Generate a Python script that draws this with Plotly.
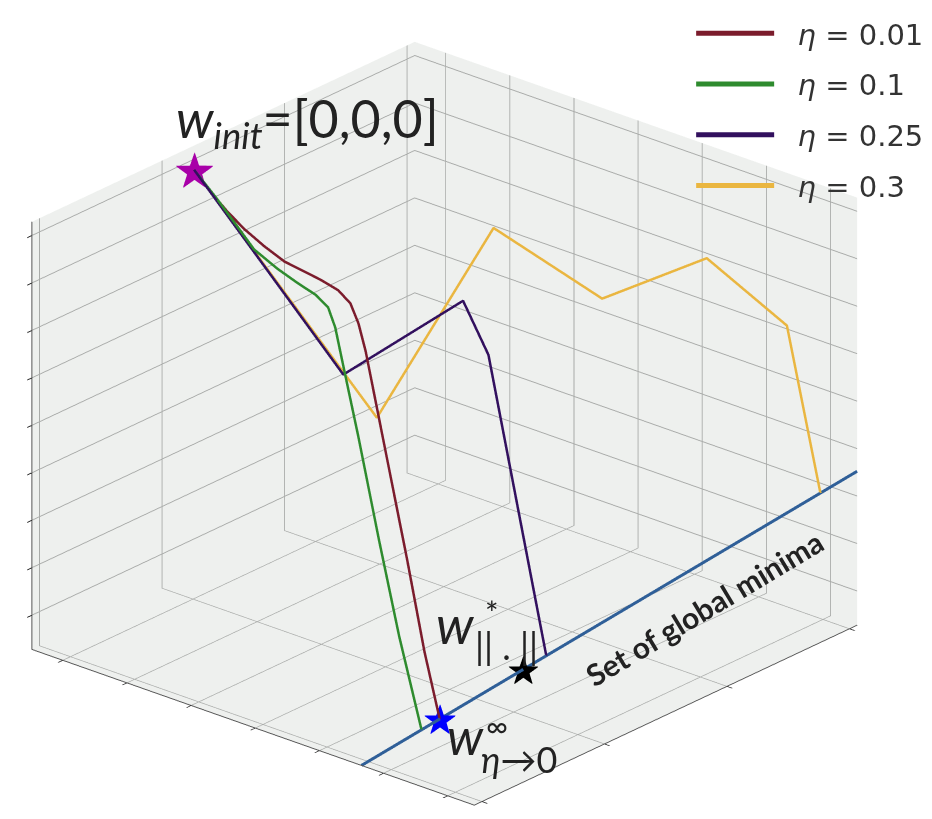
import plotly.graph_objects as go

# ---------------- data (3D positions in weight space, box [0,1]^3) ----------------
series_names = ["<i>η</i> = 0.01", "<i>η</i> = 0.1", "<i>η</i> = 0.25", "<i>η</i> = 0.3"]
series_colors = ["#7b1c2c", "#2e8b2e", "#32105e", "#eab640"]

w_init = [0.611, 0.03, 0.969]

eta001_x = [0.611, 0.5925, 0.6112, 0.6299, 0.6518, 0.6738, 0.6958, 0.7134, 0.7321, 0.7453, 0.7541, 0.7617, 0.7870, 0.8068, 0.8255, 0.842]
eta001_y = [0.03, 0.0487, 0.1038, 0.159, 0.2238, 0.2887, 0.3536, 0.4054, 0.4606, 0.4996, 0.5255, 0.5482, 0.6228, 0.6812, 0.7363, 0.785]
eta001_z = [0.969, 0.920, 0.900, 0.886, 0.878, 0.875, 0.884, 0.891, 0.895, 0.884, 0.850, 0.797, 0.561, 0.376, 0.190, 0.057]

eta01_x = [0.611, 0.6058, 0.6328, 0.6558, 0.6869, 0.7140, 0.7383, 0.7546, 0.7640, 0.7749, 0.7951, 0.8222, 0.8492, 0.879]
eta01_y = [0.03, 0.0762, 0.1455, 0.2044, 0.2841, 0.3534, 0.4157, 0.4573, 0.4815, 0.5093, 0.5612, 0.6305, 0.6998, 0.776]
eta01_z = [0.969, 0.917, 0.889, 0.865, 0.862, 0.865, 0.870, 0.863, 0.829, 0.753, 0.613, 0.412, 0.222, 0.044]

eta025_x = [0.611, 0.5976, 0.6150, 0.6186, 0.627]
eta025_y = [0.03, 0.3558, 0.6415, 0.7020, 0.840]
eta025_z = [0.969, 0.603, 0.887, 0.784, 0.134]

eta03_x = [0.611, 0.4296, 0.3360, 0.2489, 0.1651, 0.1008, 0.0919, 0.074]
eta03_y = [0.03, 0.2862, 0.4690, 0.6391, 0.8029, 0.9285, 0.9460, 0.981]
eta03_z = [0.969, 0.406, 0.877, 0.737, 0.856, 0.717, 0.589, 0.333]

minima_x = [1.0, 0.0]
minima_y = [0.745, 1.0]
minima_z = [0.0, 0.36]

w_eta0 = [0.842, 0.785, 0.057]     # w^inf_{eta->0}
w_norm = [0.674, 0.828, 0.117]     # w*_{||.||}

x_ticks = [0.02, 0.34, 0.66, 0.98]
y_ticks = [0.07, 0.215, 0.36, 0.505, 0.65, 0.795, 0.94]
z_ticks = [0.08, 0.191, 0.302, 0.413, 0.524, 0.635, 0.746, 0.857, 0.968]

# ---------------- figure ----------------
fig = go.Figure()

fig.add_trace(go.Scatter3d(x=minima_x, y=minima_y, z=minima_z, mode="lines",
                           line=dict(color="#2f5f98", width=6), showlegend=False,
                           hoverinfo="skip"))

paths = [(eta001_x, eta001_y, eta001_z), (eta01_x, eta01_y, eta01_z),
         (eta025_x, eta025_y, eta025_z), (eta03_x, eta03_y, eta03_z)]
for i, (px_, py_, pz_) in enumerate(paths):
    fig.add_trace(go.Scatter3d(x=px_, y=py_, z=pz_, mode="lines",
                               name="\u00a0\u00a0" + series_names[i],
                               legendgroup=f"g{i}",
                               line=dict(color=series_colors[i], width=5),
                               hoverinfo="skip"))

for pt, col, sz in [(w_init, "#a800a8", 50), (w_eta0, "#0000ff", 42), (w_norm, "#000000", 40)]:
    fig.add_trace(go.Scatter3d(x=[pt[0]], y=[pt[1]], z=[pt[2]], mode="text", text=["★"],
                               textposition="middle center",
                               textfont=dict(color=col, size=sz, family="DejaVu Sans"),
                               showlegend=False, hoverinfo="skip"))

def axis(ticks):
    return dict(range=[0, 1], tickvals=ticks, showticklabels=False, title=dict(text=""),
                showgrid=True, gridcolor="#a9aba9", gridwidth=2,
                showbackground=True, backgroundcolor="rgb(238,240,238)",
                showline=True, linecolor="#555555", linewidth=2,
                ticks="outside", ticklen=7, tickcolor="#222222", tickwidth=2,
                zeroline=False, showspikes=False, autorange=False)

W, H = 932, 819
k = 1.45
fig.update_layout(
    width=W, height=H,
    margin=dict(l=0, r=0, t=0, b=0),
    paper_bgcolor="white",
    font=dict(family="DejaVu Sans", color="#222222"),
    scene=dict(
        domain=dict(x=[0.0, 0.937], y=[0.0, 0.985]),
        xaxis=axis(x_ticks), yaxis=axis(y_ticks), zaxis=axis(z_ticks),
        aspectmode="manual", aspectratio=dict(x=1 * k, y=1 * k, z=0.8 * k),
        camera=dict(eye=dict(x=0.691 * 1.9, y=0.598 * 1.9, z=0.407 * 1.9),
                    center=dict(x=0, y=0, z=0), up=dict(x=0, y=0, z=1),
                    projection=dict(type="orthographic")),
        dragmode=False,
    ),
    legend=dict(x=0.733, y=1.0, xanchor="left", yanchor="top",
                bgcolor="rgba(0,0,0,0)", font=dict(size=29, family="DejaVu Sans", color="#333333"),
                tracegroupgap=10, itemwidth=78),
    showlegend=True,
)

def px(x, y):
    return x / W, 1 - y / H

annots = [
    dict(text="<i>w</i><sub><i>init</i></sub>=[0,0,0]", pos=(299, 114), size=52),
    dict(text="<i>w</i>", pos=(447, 616), size=52),
    dict(text="*", pos=(484, 604), size=32),
    dict(text="|| . ||", pos=(498, 638), size=36),
    dict(text="<i>w</i>", pos=(457, 728), size=50),
    dict(text="∞", pos=(489, 717), size=30),
    dict(text="<i>η</i>→0", pos=(511, 751), size=36),
]
for a in annots:
    xx, yy = px(*a["pos"])
    fig.add_annotation(x=xx, y=yy, xref="paper", yref="paper", text=a["text"], showarrow=False,
                       font=dict(size=a["size"], family="Lato", color="#222222"),
                       xanchor="center", yanchor="middle")

xx, yy = px(696, 600)
fig.add_annotation(x=xx, y=yy, xref="paper", yref="paper", text="<b>Set of global minima</b>",
                   showarrow=False, textangle=-31,
                   font=dict(size=30, family="Lato", color="#222222"),
                   xanchor="center", yanchor="middle")

fig.write_html("out.html")
